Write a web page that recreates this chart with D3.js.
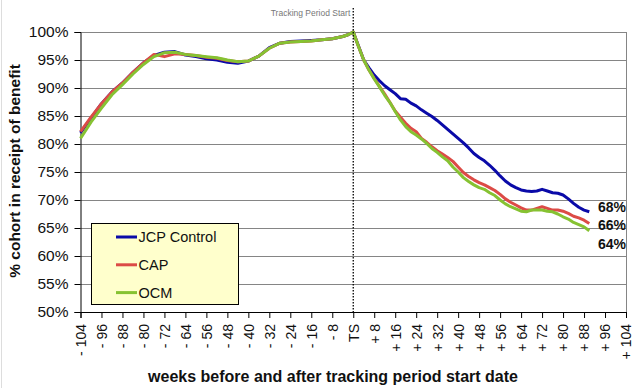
<!DOCTYPE html>
<html>
<head>
<meta charset="utf-8">
<script src="https://cdn.jsdelivr.net/npm/d3@7"></script>
<style>
  body { margin: 0; background: #fff; }
  svg { font-family: "Liberation Sans", Arial, sans-serif; }
</style>
</head>
<body>
<svg id="drawing_region"></svg>
<script>
// weeks relative to tracking period start (TS = 0)
const weeks = [
    -104, -100, -96, -92, -88, -84, -80, -76, -72, -68, -64, -60, -56, -52,
    -48, -44, -40, -36, -32, -28, -24, -20, -16, -12, -8, -4, -2,
    0, 2, 4, 6, 8, 10, 12, 14, 16, 18, 20, 22, 24, 26, 28, 30, 32, 34, 36,
    38, 40, 42, 44, 46, 48, 50, 52, 54, 56, 58, 60, 62, 64, 66, 68, 70, 72,
    74, 76, 78, 80, 82, 84, 86, 88, 90
];

const jcpControl = [
    82.0, 84.6, 87.2, 89.3, 90.9, 92.8, 94.5, 95.8, 96.4, 96.5, 95.9, 95.6, 95.2, 95.0,
    94.6, 94.4, 94.8, 95.7, 97.2, 98.0, 98.3, 98.4, 98.5, 98.6, 98.8, 99.2, 99.5,
    100, 97.5, 95.0, 93.6, 92.3, 91.3, 90.4, 89.7, 89.0, 88.1, 88.0, 87.3, 86.8, 86.1, 85.5, 84.9, 84.2, 83.4, 82.6,
    81.8, 81.0, 80.2, 79.3, 78.3, 77.6, 77.0, 76.2, 75.3, 74.3, 73.4, 72.7, 72.2, 71.8, 71.6, 71.5, 71.6, 71.9,
    71.6, 71.3, 71.2, 70.9, 70.2, 69.4, 68.7, 68.2, 67.9
];

const cap = [
    82.2, 84.8, 87.2, 89.3, 90.9, 92.8, 94.5, 96.0, 95.6, 96.1, 96.0, 95.8, 95.5, 95.3,
    94.9, 94.7, 94.8, 95.7, 97.1, 98.0, 98.2, 98.3, 98.4, 98.6, 98.8, 99.2, 99.5,
    100, 97.4, 95.0, 93.2, 91.7, 90.3, 88.9, 87.4, 85.9, 84.8, 83.7, 82.8, 82.2, 81.0, 80.3, 79.5, 78.8, 78.2, 77.6,
    76.9, 75.9, 74.9, 74.2, 73.6, 73.1, 72.7, 72.2, 71.7, 71.0, 70.2, 69.6, 69.1, 68.6, 68.2, 68.2, 68.5, 68.8,
    68.5, 68.2, 68.2, 68.0, 67.6, 67.1, 66.8, 66.4, 65.8
];

const ocm = [
    81.0, 83.9, 86.4, 88.8, 90.6, 92.5, 94.2, 95.6, 96.3, 96.4, 96.0, 95.8, 95.6, 95.4,
    95.0, 94.7, 94.8, 95.7, 97.1, 98.0, 98.2, 98.3, 98.4, 98.6, 98.8, 99.2, 99.5,
    100, 97.4, 95.0, 93.2, 91.6, 90.2, 88.7, 87.4, 85.8, 84.3, 83.1, 82.2, 81.6, 80.9, 80.1, 79.2, 78.5, 77.7, 77.0,
    75.9, 75.0, 74.0, 73.3, 72.7, 72.2, 71.9, 71.3, 70.8, 70.0, 69.3, 68.8, 68.4, 68.0, 67.9, 68.2, 68.2, 68.2,
    68.0, 67.9, 67.5, 67.0, 66.6, 66.0, 65.6, 65.2, 64.5
];

const seriesNames = ["JCP Control", "CAP", "OCM"];
const seriesColors = ["#0a0aa8", "#dc4b46", "#86c232"];
const endLabels = ["68%", "66%", "64%"];

const xTicks = d3.range(-104, 105, 8);
const yTicks = d3.range(50, 101, 5);

const width = 643, height = 388;
const margin = {top: 32, right: 17, bottom: 76, left: 80.5};
const innerW = width - margin.left - margin.right;
const innerH = height - margin.top - margin.bottom;

const svg = d3.select("#drawing_region")
    .attr("width", width)
    .attr("height", height);

// faint outer frame edge
svg.append("line")
    .attr("x1", 1.5).attr("x2", 1.5).attr("y1", 0).attr("y2", height)
    .attr("stroke", "#dddddd");

const chart = svg.append("g")
    .attr("transform", `translate(${margin.left}, ${margin.top})`);

const xscale = d3.scaleLinear().domain([-104, 104]).range([0, innerW]);
const yscale = d3.scaleLinear().domain([50, 100]).range([innerH, 0]);

// gridlines
chart.append("g")
    .selectAll("line")
    .data(yTicks.filter(d => d > 50))
    .join("line")
    .attr("x1", 0).attr("x2", innerW)
    .attr("y1", d => Math.round(yscale(d)) + 0.5)
    .attr("y2", d => Math.round(yscale(d)) + 0.5)
    .attr("stroke", "#858585");

// right border
chart.append("line")
    .attr("x1", innerW + 0.5).attr("x2", innerW + 0.5)
    .attr("y1", 0).attr("y2", innerH)
    .attr("stroke", "#858585");

// y axis
const yaxis = d3.axisLeft(yscale)
    .tickValues(yTicks)
    .tickSize(6)
    .tickPadding(6)
    .tickFormat(d => d + "%");

const yaxis_group = chart.append("g").call(yaxis);
yaxis_group.select(".domain").attr("stroke", "#000");
yaxis_group.selectAll("text")
    .style("font-size", "15.5px")
    .attr("fill", "#111");

// x axis
const xaxis = d3.axisBottom(xscale)
    .tickValues(xTicks)
    .tickSize(6)
    .tickFormat(d => d === 0 ? "TS" : (d < 0 ? "- " + (-d) : "+ " + d));

const xaxis_group = chart.append("g")
    .attr("transform", `translate(0, ${innerH})`)
    .call(xaxis);
xaxis_group.select(".domain").attr("stroke", "#000");
xaxis_group.selectAll("text")
    .attr("transform", "rotate(-90)")
    .attr("text-anchor", "end")
    .attr("x", -12)
    .attr("y", 0)
    .attr("dy", "0.35em")
    .style("font-size", "14px")
    .attr("fill", "#111");

// tracking period start marker
svg.append("line")
    .attr("x1", margin.left + xscale(0)).attr("x2", margin.left + xscale(0))
    .attr("y1", 8).attr("y2", margin.top + innerH)
    .attr("stroke", "#000")
    .attr("stroke-width", 1.3)
    .attr("stroke-dasharray", "1.5,1.5");

svg.append("text")
    .attr("x", margin.left + xscale(0) - 3)
    .attr("y", 16)
    .attr("text-anchor", "end")
    .style("font-size", "8.5px")
    .attr("fill", "#777")
    .text("Tracking Period Start");

// series lines
const allSeries = [jcpControl, cap, ocm];
const line = d3.line()
    .x((d, i) => xscale(weeks[i]))
    .y(d => yscale(d))
    .curve(d3.curveLinear);

allSeries.forEach((values, k) => {
    chart.append("path")
        .datum(values)
        .attr("fill", "none")
        .attr("stroke", seriesColors[k])
        .attr("stroke-width", 3)
        .attr("stroke-linejoin", "round")
        .attr("d", line);
});

// end labels
const labelY = [207, 225, 244];
endLabels.forEach((t, k) => {
    svg.append("text")
        .attr("x", 598)
        .attr("y", labelY[k])
        .attr("dy", "0.35em")
        .style("font-size", "14px")
        .style("font-weight", "bold")
        .attr("fill", "#111")
        .text(t);
});

// legend
const legend = svg.append("g");
legend.append("rect")
    .attr("x", 91.5).attr("y", 223.5)
    .attr("width", 147).attr("height", 81)
    .attr("fill", "#ffffcc")
    .attr("stroke", "#000");

seriesNames.forEach((name, k) => {
    const ly = 237 + k * 27.8;
    legend.append("line")
        .attr("x1", 116).attr("x2", 137)
        .attr("y1", ly).attr("y2", ly)
        .attr("stroke", seriesColors[k])
        .attr("stroke-width", 3);
    legend.append("text")
        .attr("x", 138.5)
        .attr("y", ly)
        .attr("dy", "0.36em")
        .style("font-size", "14.5px")
        .attr("fill", "#111")
        .text(name);
});

// axis titles
svg.append("text")
    .attr("x", 333)
    .attr("y", 382)
    .attr("text-anchor", "middle")
    .style("font-size", "16px")
    .style("font-weight", "bold")
    .attr("fill", "#111")
    .text("weeks before and after tracking period start date");

svg.append("text")
    .attr("transform", "rotate(-90)")
    .attr("x", -171)
    .attr("y", 15)
    .attr("dy", "0.35em")
    .attr("text-anchor", "middle")
    .style("font-size", "15.5px")
    .style("font-weight", "bold")
    .attr("fill", "#111")
    .text("% cohort in receipt of benefit");
</script>
</body>
</html>
